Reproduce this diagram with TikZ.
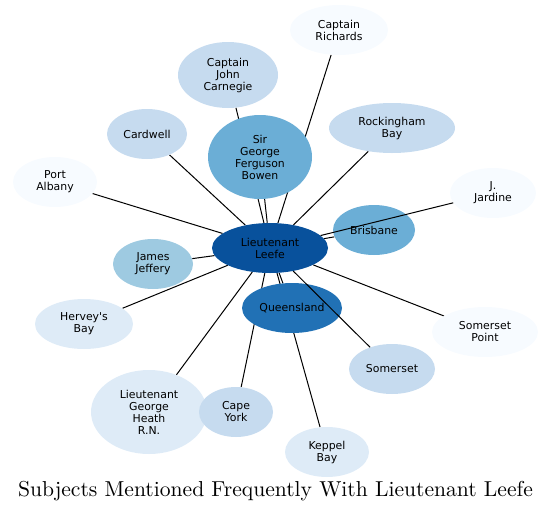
\documentclass[tikz,border=0pt]{standalone}
\usepackage{fontspec}
\newfontfamily\nodefont{DejaVu Sans}
\newfontfamily\titlefont{lmroman10-regular}[Extension=.otf]
\usetikzlibrary{shapes.geometric}
\pgfdeclarelayer{background}
\pgfsetlayers{background,main}
\definecolor{cA}{HTML}{08519C}
\definecolor{cB}{HTML}{2171B5}
\definecolor{cC}{HTML}{6BAED6}
\definecolor{cD}{HTML}{9ECAE1}
\definecolor{cE}{HTML}{C6DBEF}
\definecolor{cF}{HTML}{DEEBF7}
\definecolor{cG}{HTML}{F7FBFF}
\tikzset{
  ent/.style={ellipse, inner sep=0pt, align=center, text=black,
    font=\nodefont\fontsize{10.9}{12}\selectfont},
  edge/.style={draw=black, line width=1pt},
}
\newcommand{\entnode}[6]{\node[ent, fill=#4, minimum width=#5pt, minimum height=#6pt] (#1) at (#2,#3)}
\begin{document}
\begin{tikzpicture}[x=1pt,y=-1pt]
\useasboundingbox (0,0) rectangle (552,512);
\entnode{leefe}{270}{248}{cA}{116}{50} {Lieutenant\\Leefe};
\entnode{bowen}{260}{157}{cC}{104}{84} {Sir\\George\\Ferguson\\Bowen};
\entnode{carnegie}{228}{75}{cE}{100}{66} {Captain\\John\\Carnegie};
\entnode{richards}{339}{30}{cG}{98}{50} {Captain\\Richards};
\entnode{rock}{392}{128}{cE}{126}{50} {Rockingham\\Bay};
\entnode{cardwell}{147}{134}{cE}{80}{50} {Cardwell};
\entnode{albany}{55}{182}{cG}{84}{50} {Port\\Albany};
\entnode{jardine}{493}{193}{cG}{86}{50} {J.\\Jardine};
\entnode{brisbane}{374}{230}{cC}{82}{50} {Brisbane};
\entnode{jeffery}{153}{264}{cD}{80}{50} {James\\Jeffery};
\entnode{hervey}{84}{324}{cF}{98}{50} {Hervey's\\Bay};
\entnode{qld}{292}{308}{cB}{100}{50} {Queensland};
\entnode{spoint}{485}{332}{cG}{106}{50} {Somerset\\Point};
\entnode{somerset}{392}{369}{cE}{86}{50} {Somerset};
\entnode{heath}{149}{412}{cF}{116}{84} {Lieutenant\\George\\Heath\\R.N.};
\entnode{capeyork}{236}{412}{cE}{74}{50} {Cape\\York};
\entnode{keppel}{327}{452}{cF}{84}{50} {Keppel\\Bay};
\node[font=\titlefont\fontsize{21.6}{24}\selectfont, inner sep=0pt] (title) at (275.5,491) {Subjects Mentioned Frequently With Lieutenant Leefe};
\begin{pgfonlayer}{background}
\foreach \t in {bowen,carnegie,richards,rock,cardwell,albany,brisbane,jeffery,hervey,qld,spoint,heath,capeyork,keppel}
  \draw[edge] (leefe) -- (\t);
\end{pgfonlayer}
\draw[edge] (leefe) -- (jardine);
\draw[edge] (leefe) -- (somerset);
\end{tikzpicture}
\end{document}
